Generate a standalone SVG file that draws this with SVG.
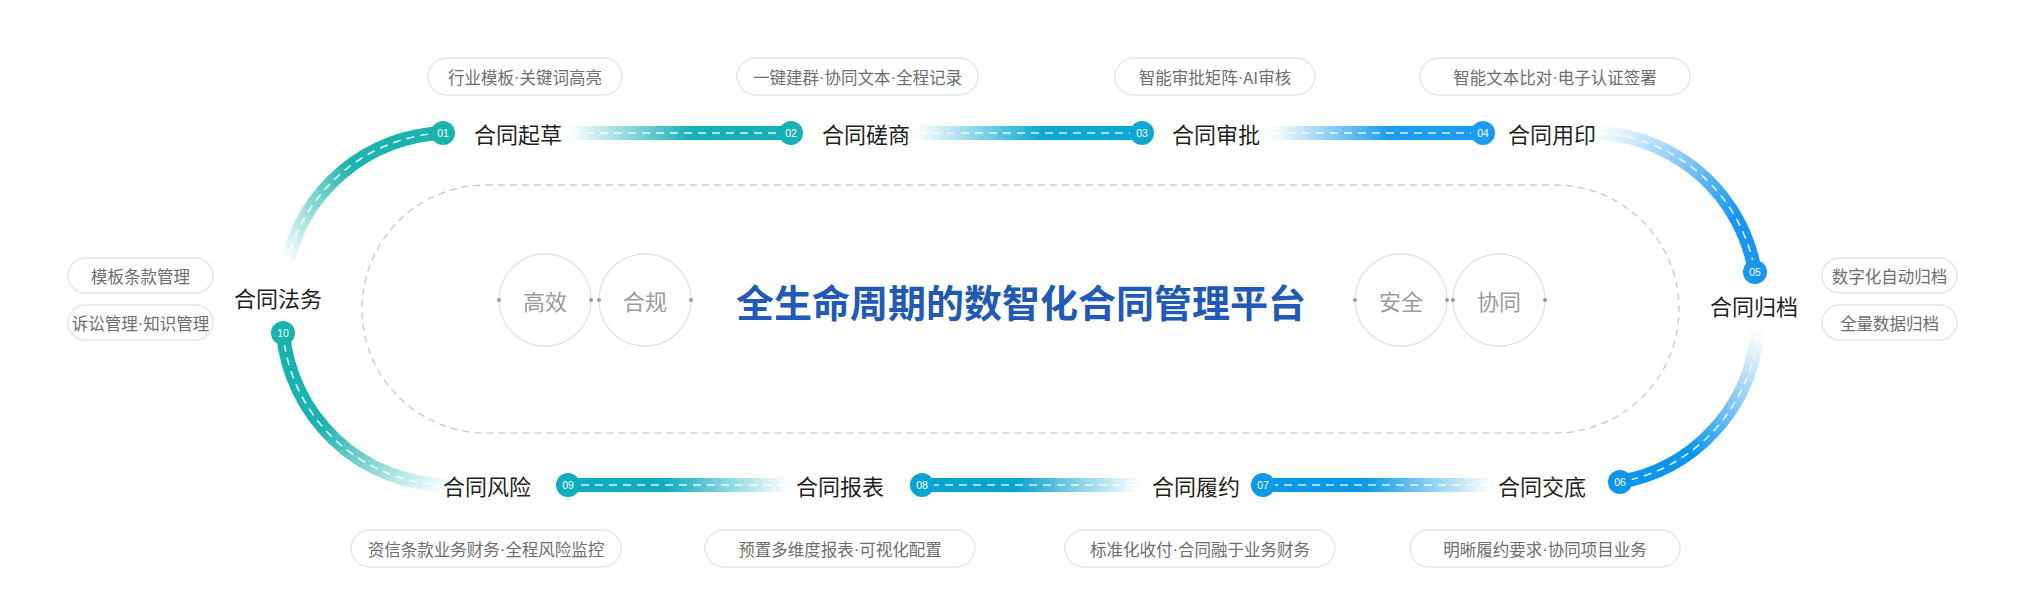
<svg xmlns="http://www.w3.org/2000/svg" width="2044" height="612" viewBox="0 0 2044 612">
<style>
.lbl{font-family:"Noto Sans CJK SC","Noto Sans",sans-serif;font-size:22px;fill:#1f1f1f;text-anchor:middle;dominant-baseline:central}
.pill rect{fill:#fff;stroke:#e1e8f3;stroke-width:1.5}
.pill text{font-family:"Noto Sans CJK SC","Noto Sans",sans-serif;font-size:16.5px;fill:#6e6e6e;text-anchor:middle;dominant-baseline:central}
.md{font-family:"Liberation Sans",Arial,sans-serif}
.num{font-family:"Liberation Sans",Arial,sans-serif;font-size:10.5px;fill:#fff;text-anchor:middle;dominant-baseline:central}
.track{fill:none;stroke-width:14;stroke-linecap:round}
.dash{fill:none;stroke:#fff;stroke-width:1.6;stroke-dasharray:8 6;opacity:.85}
.circ{fill:#fff;stroke:#e2e2e2;stroke-width:1.3}
.ctxt{font-family:"Noto Sans CJK SC","Noto Sans",sans-serif;font-size:22px;fill:#9b9b9b;text-anchor:middle;dominant-baseline:central}
.dot{fill:#9a9a9a}
</style>
<defs>
<linearGradient id="g10" gradientUnits="userSpaceOnUse" x1="287" y1="264" x2="443" y2="133"><stop offset="0" stop-color="#1bb3ad" stop-opacity="0"/><stop offset="0.55" stop-color="#1bb3ad"/></linearGradient>
<linearGradient id="g01" gradientUnits="userSpaceOnUse" x1="572" y1="0" x2="790" y2="0"><stop offset="0" stop-color="#15b0b8" stop-opacity="0.03"/><stop offset="0.55" stop-color="#15b0b8"/></linearGradient>
<linearGradient id="g02" gradientUnits="userSpaceOnUse" x1="919" y1="0" x2="1142" y2="0"><stop offset="0" stop-color="#0ba8d4" stop-opacity="0.03"/><stop offset="0.55" stop-color="#0ba8d4"/></linearGradient>
<linearGradient id="g03" gradientUnits="userSpaceOnUse" x1="1274" y1="0" x2="1483" y2="0"><stop offset="0" stop-color="#1a9cf0" stop-opacity="0.03"/><stop offset="0.55" stop-color="#1a9cf0"/></linearGradient>
<linearGradient id="g04" gradientUnits="userSpaceOnUse" x1="1600" y1="133" x2="1755" y2="272"><stop offset="0" stop-color="#1896f2" stop-opacity="0.03"/><stop offset="0.75" stop-color="#1896f2"/></linearGradient>
<linearGradient id="g05" gradientUnits="userSpaceOnUse" x1="1757" y1="336" x2="1620" y2="482"><stop offset="0" stop-color="#0b95ee" stop-opacity="0.03"/><stop offset="0.65" stop-color="#0b95ee"/></linearGradient>
<linearGradient id="g06" gradientUnits="userSpaceOnUse" x1="1488" y1="0" x2="1263" y2="0"><stop offset="0" stop-color="#0b9ae8" stop-opacity="0.03"/><stop offset="0.55" stop-color="#0b9ae8"/></linearGradient>
<linearGradient id="g07" gradientUnits="userSpaceOnUse" x1="1135" y1="0" x2="922" y2="0"><stop offset="0" stop-color="#0aa4d2" stop-opacity="0.03"/><stop offset="0.55" stop-color="#0aa4d2"/></linearGradient>
<linearGradient id="g08" gradientUnits="userSpaceOnUse" x1="785" y1="0" x2="568" y2="0"><stop offset="0" stop-color="#10adbf" stop-opacity="0.03"/><stop offset="0.55" stop-color="#10adbf"/></linearGradient>
<linearGradient id="g09" gradientUnits="userSpaceOnUse" x1="445" y1="485" x2="283" y2="333"><stop offset="0" stop-color="#19b2ae" stop-opacity="0.03"/><stop offset="0.6" stop-color="#19b2ae"/></linearGradient>
</defs>
<rect width="2044" height="612" fill="#fff"/>

<g id="center">
<rect x="362" y="185" width="1317" height="248" rx="124" fill="none" stroke="#cfcfcf" stroke-width="1.5" stroke-dasharray="7 5"/>
<g id="c-gaoxiao"><circle class="circ" cx="545" cy="300" r="46"/><text class="ctxt" x="545" y="300">高效</text><circle class="dot" cx="499" cy="300" r="2"/><circle class="dot" cx="591" cy="300" r="2"/></g>
<g id="c-hegui"><circle class="circ" cx="645" cy="300" r="46"/><text class="ctxt" x="645" y="300">合规</text><circle class="dot" cx="599" cy="300" r="2"/><circle class="dot" cx="691" cy="300" r="2"/></g>
<g id="c-anquan"><circle class="circ" cx="1401" cy="300" r="46"/><text class="ctxt" x="1401" y="300">安全</text><circle class="dot" cx="1355" cy="300" r="2"/><circle class="dot" cx="1447" cy="300" r="2"/></g>
<g id="c-xietong"><circle class="circ" cx="1499" cy="300" r="46"/><text class="ctxt" x="1499" y="300">协同</text><circle class="dot" cx="1453" cy="300" r="2"/><circle class="dot" cx="1545" cy="300" r="2"/></g>
<text x="1021" y="300" font-family="'Noto Sans CJK SC','Noto Sans',sans-serif" font-size="38" font-weight="700" fill="#2159b6" text-anchor="middle" dominant-baseline="central">全生命周期的数智化合同管理平台</text>
</g>

<g id="connectors">
<path class="track" stroke="url(#g10)" d="M287 264 A167 167 0 0 1 443 133"/>
<path class="dash" d="M287 264 A167 167 0 0 1 443 133"/>
<path class="track" stroke="url(#g01)" d="M572 133 H790"/>
<path class="dash" d="M572 133 H790"/>
<path class="track" stroke="url(#g02)" d="M919 133 H1142"/>
<path class="dash" d="M919 133 H1142"/>
<path class="track" stroke="url(#g03)" d="M1274 133 H1483"/>
<path class="dash" d="M1274 133 H1483"/>
<path class="track" stroke="url(#g04)" d="M1600 133 A167 167 0 0 1 1755 272"/>
<path class="dash" d="M1600 133 A167 167 0 0 1 1755 272"/>
<path class="track" stroke="url(#g05)" d="M1757 336 A167 167 0 0 1 1620 482"/>
<path class="dash" d="M1757 336 A167 167 0 0 1 1620 482"/>
<path class="track" stroke="url(#g06)" d="M1488 485 H1263"/>
<path class="dash" d="M1488 485 H1263"/>
<path class="track" stroke="url(#g07)" d="M1135 485 H922"/>
<path class="dash" d="M1135 485 H922"/>
<path class="track" stroke="url(#g08)" d="M785 485 H568"/>
<path class="dash" d="M785 485 H568"/>
<path class="track" stroke="url(#g09)" d="M445 485 A167 167 0 0 1 283 333"/>
<path class="dash" d="M445 485 A167 167 0 0 1 283 333"/>
</g>

<g id="n01"><circle cx="443" cy="133" r="12" fill="#1bb3ad"/><text class="num" x="443" y="133">01</text><text class="lbl" x="518" y="133">合同起草</text>
<g class="pill"><rect x="428" y="58" width="194" height="37" rx="18.5"/><text x="525" y="76.5">行业模板<tspan class="md">·</tspan>关键词高亮</text></g></g>
<g id="n02"><circle cx="791" cy="133" r="12" fill="#15b0b8"/><text class="num" x="791" y="133">02</text><text class="lbl" x="866" y="133">合同磋商</text>
<g class="pill"><rect x="737" y="58" width="241" height="37" rx="18.5"/><text x="857.5" y="76.5">一键建群<tspan class="md">·</tspan>协同文本<tspan class="md">·</tspan>全程记录</text></g></g>
<g id="n03"><circle cx="1142" cy="133" r="12" fill="#0ba8d4"/><text class="num" x="1142" y="133">03</text><text class="lbl" x="1216" y="133">合同审批</text>
<g class="pill"><rect x="1115" y="58" width="200" height="37" rx="18.5"/><text x="1215" y="76.5">智能审批矩阵<tspan class="md">·</tspan>AI审核</text></g></g>
<g id="n04"><circle cx="1483" cy="133" r="12" fill="#1a9cf0"/><text class="num" x="1483" y="133">04</text><text class="lbl" x="1552" y="133">合同用印</text>
<g class="pill"><rect x="1420" y="58" width="270" height="37" rx="18.5"/><text x="1555" y="76.5">智能文本比对<tspan class="md">·</tspan>电子认证签署</text></g></g>
<g id="n05"><circle cx="1755" cy="272" r="12" fill="#1896f2"/><text class="num" x="1755" y="272">05</text><text class="lbl" x="1754" y="305">合同归档</text>
<g class="pill"><rect x="1822" y="258" width="135" height="35" rx="17.5"/><text x="1889.5" y="275.5">数字化自动归档</text></g>
<g class="pill"><rect x="1822" y="305" width="135" height="35" rx="17.5"/><text x="1889.5" y="322.5">全量数据归档</text></g></g>
<g id="n06"><circle cx="1620" cy="482" r="12" fill="#0b95ee"/><text class="num" x="1620" y="482">06</text><text class="lbl" x="1542" y="485">合同交底</text>
<g class="pill"><rect x="1410" y="530" width="270" height="37" rx="18.5"/><text x="1545" y="548.5">明晰履约要求<tspan class="md">·</tspan>协同项目业务</text></g></g>
<g id="n07"><circle cx="1263" cy="485" r="12" fill="#0b9ae8"/><text class="num" x="1263" y="485">07</text><text class="lbl" x="1196" y="485">合同履约</text>
<g class="pill"><rect x="1065" y="530" width="270" height="37" rx="18.5"/><text x="1200" y="548.5">标准化收付<tspan class="md">·</tspan>合同融于业务财务</text></g></g>
<g id="n08"><circle cx="922" cy="485" r="12" fill="#0aa4d2"/><text class="num" x="922" y="485">08</text><text class="lbl" x="840" y="485">合同报表</text>
<g class="pill"><rect x="705" y="530" width="270" height="37" rx="18.5"/><text x="840" y="548.5">预置多维度报表<tspan class="md">·</tspan>可视化配置</text></g></g>
<g id="n09"><circle cx="568" cy="485" r="12" fill="#10adbf"/><text class="num" x="568" y="485">09</text><text class="lbl" x="487" y="485">合同风险</text>
<g class="pill"><rect x="351" y="530" width="270" height="37" rx="18.5"/><text x="486" y="548.5">资信条款业务财务<tspan class="md">·</tspan>全程风险监控</text></g></g>
<g id="n10"><circle cx="283" cy="333" r="12" fill="#19b2ae"/><text class="num" x="283" y="333">10</text><text class="lbl" x="278" y="297">合同法务</text>
<g class="pill"><rect x="68" y="258" width="145" height="35" rx="17.5"/><text x="140.5" y="275.5">模板条款管理</text></g>
<g class="pill"><rect x="68" y="305" width="145" height="35" rx="17.5"/><text x="140.5" y="322.5">诉讼管理<tspan class="md">·</tspan>知识管理</text></g></g>
</svg>
